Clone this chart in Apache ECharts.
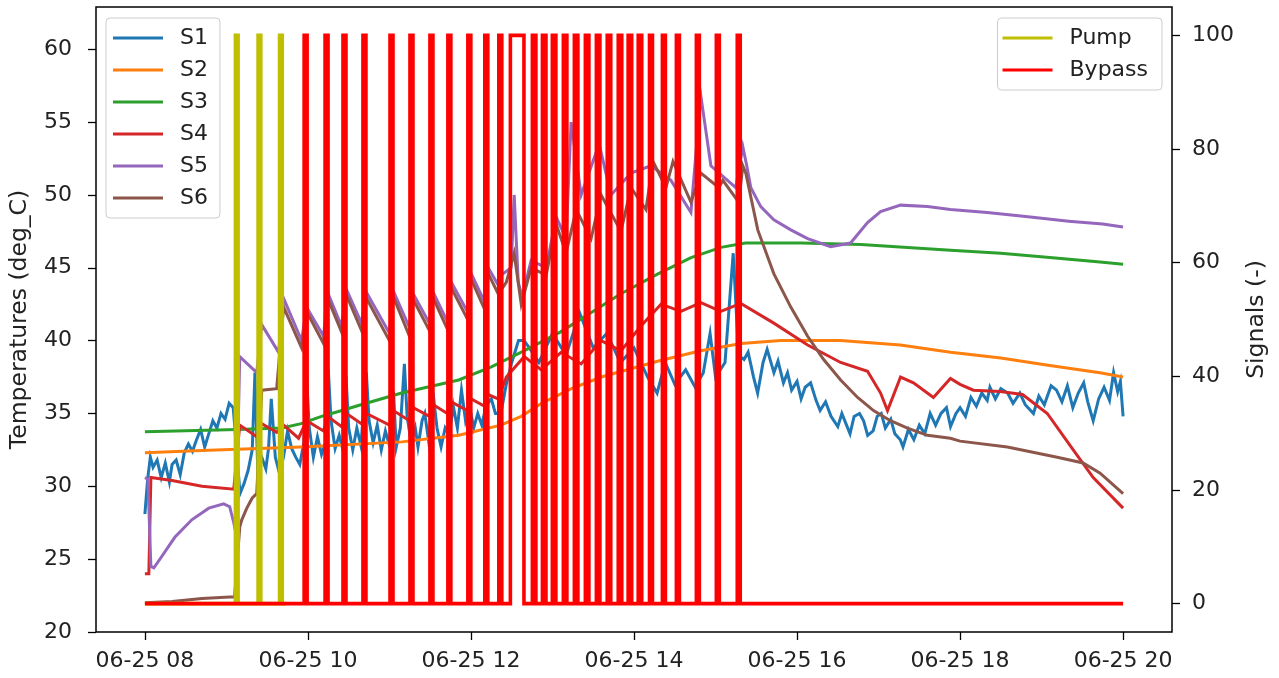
<!DOCTYPE html>
<html>
<head>
<meta charset="utf-8">
<script src="https://cdn.jsdelivr.net/npm/echarts@6/dist/echarts.min.js"></script>
<style>
  html, body { margin: 0; padding: 0; background: #fff; }
  #chart { width: 1279px; height: 678px; }
</style>
</head>
<body>
<div id="chart"></div>
<script>
// time is in minutes after 06-25 08:00
const s1Time = [0, 2, 4, 6, 9, 12, 15, 18, 20, 23, 26, 29, 32, 35, 38, 41, 44, 47, 50, 53, 56, 59, 62, 65,
  70, 73, 76, 79, 81, 83, 86, 89, 91, 93, 96, 99, 102, 105, 108, 111, 114, 117, 119, 121, 124, 127, 130, 133,
  135, 137, 140, 143, 146, 148, 150, 153, 156, 159, 163, 165, 168, 171, 174, 177, 180, 183, 185, 188, 191, 193,
  196, 199, 201, 204, 206, 209, 212, 215, 218, 221, 224, 227, 230, 233, 236, 239, 242, 245, 248, 251, 255, 258,
  262, 266, 270, 275, 279, 283, 290, 300, 310, 320, 330, 340, 350, 360, 370, 377, 383, 390, 398, 405, 411, 416,
  420, 427, 433, 437, 441, 444, 448, 451, 455, 458, 463, 466, 470, 473, 476, 480, 483, 486, 490, 494, 497, 501,
  505, 510, 513, 516, 519, 522, 526, 529, 532, 536, 539, 542, 545, 549, 552, 556, 558, 562, 566, 570, 574, 578,
  582, 586, 590, 593, 597, 600, 604, 608, 612, 616, 620, 622, 626, 630, 635, 639, 644, 648, 654, 658, 662, 667,
  671, 675, 679, 683, 687, 691, 694, 698, 702, 706, 710, 713, 716, 718, 720]
const s1Temp = [28.1, 30.5, 32.0, 31.3, 31.8, 30.6, 31.6, 30.3, 31.5, 31.8, 30.8, 32.3, 32.9, 32.4, 33.2, 33.9, 32.7, 33.6, 34.5, 34.0, 35.0, 34.6, 35.7, 35.4,
  29.5, 30.2, 31.1, 32.5, 37.8, 31.3, 32.0, 31.2, 32.6, 36.0, 32.0, 30.9, 32.0, 33.8, 32.6, 32.0, 31.5, 33.0, 37.5, 34.0, 32.0, 33.4, 32.2, 33.0,
  38.0, 34.5, 32.6, 33.5, 32.4, 37.6, 34.0, 32.5, 34.0, 32.8, 37.8, 34.5, 33.0, 34.2, 32.5, 33.8, 32.8, 36.5, 32.7, 34.0, 38.4, 34.8,
  33.0, 34.0, 32.7, 34.5, 35.0, 33.0, 36.5, 34.0, 32.7, 34.0, 33.5, 35.5, 34.0, 36.6, 34.5, 35.5, 34.0, 35.0, 34.2, 35.5, 36.0, 35.0,
  35.0, 37.0, 38.5, 40.0, 40.0, 39.5, 38.5, 40.5, 39.0, 41.9, 39.5, 40.5, 38.5, 39.5, 37.5, 36.4, 38.5, 37.0, 38.0, 36.8, 37.8, 40.5,
  37.5, 38.5, 46.0, 39.0, 38.7, 39.2, 37.5, 36.4, 38.5, 39.4, 37.8, 38.6, 37.1, 37.8, 36.6, 37.2, 36.0, 36.8, 37.1, 35.9, 35.2, 35.8,
  34.8, 34.1, 35.0, 34.3, 33.6, 34.8, 35.0, 34.5, 33.5, 33.8, 34.8, 35.0, 34.0, 34.6, 33.6, 33.2, 32.7, 33.9, 33.2, 34.2, 33.6, 35.0,
  34.2, 35.0, 35.4, 34.1, 35.0, 35.4, 34.8, 36.1, 35.5, 36.4, 35.9, 36.8, 36.0, 36.7, 36.4, 35.7, 36.4, 35.6, 35.0, 36.2, 35.6, 36.9,
  36.6, 35.8, 36.9, 35.4, 36.4, 37.1, 35.8, 34.5, 36.0, 36.8, 35.9, 37.8, 36.5, 37.2, 34.8]

const s2Time = [0, 42, 115, 189, 231, 262, 277, 292, 314, 336, 378, 409, 439, 468, 512, 556, 593, 630, 666, 703, 720]
const s2Temp = [32.3, 32.45, 32.7, 33.05, 33.5, 34.2, 34.8, 35.7, 36.7, 37.5, 38.6, 39.3, 39.8, 40.0, 40.0, 39.7, 39.2, 38.8, 38.3, 37.8, 37.5]

const s3Time = [0, 68, 101, 115, 130, 145, 159, 189, 231, 255, 279, 306, 328, 350, 378, 402, 424, 442, 483, 527, 593, 630, 666, 703, 720]
const s3Temp = [33.75, 33.9, 34.0, 34.3, 34.8, 35.2, 35.6, 36.4, 37.3, 38.2, 39.3, 40.6, 41.9, 43.2, 44.6, 45.7, 46.4, 46.7, 46.7, 46.6, 46.2, 46.0, 45.7, 45.4, 45.25]

const s4Time = [0, 2.9, 4.4, 20, 42, 65.4, 69.8, 82.3, 86, 97, 102.1, 113.1, 119, 131.5, 134.5, 144.7, 148.4, 159.4, 163.1, 180,
  182.9, 194.7, 197.6, 209.4, 212.3, 222.6, 225.6, 237.3, 240.2, 249.8, 252.7, 260.1, 266, 279.2, 291.7, 306.4, 321.1, 335.8,
  350.4, 365.1, 379.9, 394.5, 409.2, 423.9, 438.6, 462.9, 487.8, 512.1, 531.9, 541.5, 546.6, 556.2, 565.7, 580.4, 592.9, 600,
  609.8, 629.6, 646, 664.2, 683.3, 698, 720]
const s4Temp = [24.0, 24.0, 30.6, 30.4, 30.0, 29.8, 34.2, 33.4, 34.3, 33.7, 34.2, 33.3, 34.5, 33.8, 34.8, 34.1, 35.0, 34.3, 35.0, 34.2,
  35.2, 34.5, 35.4, 34.8, 35.6, 35.0, 35.8, 35.2, 36.0, 35.5, 36.3, 36.0, 37.5, 38.9, 38.0, 39.2, 38.4, 40.0,
  39.3, 41.0, 42.5, 42.0, 42.6, 42.0, 42.55, 41.2, 39.7, 38.5, 37.9, 36.4, 35.2, 37.5, 37.1, 36.1, 37.4, 37.0,
  36.6, 36.5, 36.3, 35.0, 32.5, 30.6, 28.5]

const s5Time = [0, 2.2, 4.4, 6.6, 12.5, 22, 34.5, 47, 58, 62.4, 65.4, 66.9, 69.8, 82.3, 86, 98.4, 102.1, 115.3, 119, 131.5,
  134.5, 144.7, 148.4, 159.4, 163.1, 180, 182.9, 194.7, 197.6, 209.4, 212.3, 222.6, 225.6, 237.3, 240.2, 249.8, 252.7, 260.1,
  262.3, 269.6, 271.8, 274.8, 277.7, 284.3, 295.4, 302.7, 310, 313.7, 321.1, 334.3, 343.1, 357.8, 372.5, 387.2, 401.9, 409.2,
  416.6, 434.9, 440.1, 443, 446, 453.3, 462.9, 475.4, 487.8, 504.7, 519.4, 531.9, 541.5, 556.2, 576, 592.9, 620, 650, 680, 705, 720]
const s5Temp = [30.6, 30.5, 24.5, 24.4, 25.2, 26.5, 27.7, 28.5, 28.8, 28.6, 27.5, 26.8, 38.9, 37.8, 41.1, 39.2, 42.9, 40.0, 42.3, 40.3,
  43.3, 41.0, 43.5, 41.2, 43.3, 40.5, 43.4, 40.9, 43.2, 41.2, 43.3, 41.3, 44.0, 42.0, 44.6, 42.7, 45.0, 43.8,
  44.5, 45.0, 50.0, 44.0, 43.0, 45.5, 45.0, 48.5, 47.0, 55.0, 50.0, 53.5, 50.0, 51.5, 52.0, 51.0, 48.8, 56.8,
  52.0, 50.5, 53.3, 52.0, 50.5, 49.2, 48.3, 47.6, 47.0, 46.45, 46.7, 48.1, 48.85, 49.3, 49.2, 49.0, 48.8, 48.5, 48.2, 48.0, 47.8]

const s6Time = [0, 20, 42, 62.4, 66, 69.8, 71.3, 75, 79, 82.3, 86, 97, 102.1, 115.3, 119, 131.5, 134.5, 144.7, 148.4, 159.4,
  163.1, 180, 182.9, 194.7, 197.6, 209.4, 212.3, 222.6, 225.6, 237.3, 240.2, 249.8, 252.7, 260.1, 266, 271.8, 277, 284.3,
  295.4, 302.7, 310, 317.4, 328.4, 335.8, 350.4, 357.8, 368.8, 374, 383.5, 388.7, 401.9, 409.2, 422.5, 425.4, 437.1, 440.1,
  442.3, 451.1, 462.9, 475.4, 487.8, 499.6, 512.1, 524.6, 536.3, 548.8, 561.3, 576, 592.9, 600, 634.8, 671.5, 690.6, 703.1, 720]
const s6Temp = [22.0, 22.1, 22.3, 22.4, 22.4, 27.2, 27.7, 28.5, 29.2, 29.5, 36.6, 36.7, 42.3, 39.5, 42.0, 39.8, 42.9, 40.6, 43.1, 40.7,
  42.9, 40.0, 43.0, 40.3, 42.8, 40.7, 42.9, 40.8, 43.6, 41.5, 44.2, 42.2, 44.6, 43.2, 44.0, 46.0, 42.5, 45.0,
  44.5, 48.0, 46.0, 49.0, 47.0, 50.0, 47.5, 50.5, 49.0, 52.3, 50.5, 52.3, 49.5, 51.5, 50.5, 51.0, 49.5, 52.0,
  51.5, 47.6, 44.6, 42.3, 40.3, 38.7, 37.3, 36.1, 35.2, 34.5, 34.0, 33.5, 33.3, 33.1, 32.7, 32.0, 31.6, 30.9, 29.5]

// signal pulses (0 -> 100 -> 0), start and end minutes
const pumpOn = [66.6, 83.3, 99.1]
const pumpOff = [68.6, 85.3, 101.1]
const pumpEnd = 104
const bypassOn = [117.2, 132.6, 145.8, 160.5, 180.4, 195.1, 209.8, 223.0, 237.7, 250.2, 260.5, 269.0,
  285.2, 292.6, 299.9, 308.0, 316.1, 324.2, 332.3, 340.3, 348.4, 355.7, 363.1,
  371.4, 380.9, 391.2, 405.9, 420.6, 436.0]
const bypassOff = [119.4, 134.8, 148.0, 162.7, 182.6, 197.3, 212.0, 225.2, 239.9, 252.4, 262.7, 279.0,
  287.8, 295.2, 302.5, 310.6, 318.7, 326.8, 334.9, 342.9, 351.0, 358.3, 365.7,
  373.6, 383.1, 393.4, 408.1, 422.8, 438.2]
const bypassEnd = 720

const xTicks = [0, 120, 240, 360, 480, 600, 720]
const leftTicks = [20, 25, 30, 35, 40, 45, 50, 55, 60]
const rightTicks = [0, 20, 40, 60, 80, 100]

function pairs(t, v) {
  return t.map(function (x, i) { return [x, v[i]] })
}
function pulses(on, off, end) {
  var d = [[0, 0]]
  for (var i = 0; i < on.length; i++) {
    d.push([on[i], 0], [on[i], 100], [off[i], 100], [off[i], 0])
  }
  d.push([end, 0])
  return d
}

var FONT = 'DejaVu Sans'
var myChart = echarts.init(document.getElementById('chart'))

function lineSeries(name, data, color, yIdx, width) {
  return {
    name: name,
    type: 'line',
    yAxisIndex: yIdx,
    data: data,
    showSymbol: false,
    symbol: 'none',
    animation: false,
    lineStyle: { color: color, width: width, join: 'miter' },
    itemStyle: { color: color },
    emphasis: { disabled: true }
  }
}

var legendBase = {
  orient: 'vertical',
  icon: 'rect',
  itemWidth: 50,
  itemHeight: 3,
  itemGap: 10,
  backgroundColor: 'rgba(255,255,255,0.8)',
  borderColor: '#cccccc',
  borderWidth: 1,
  borderRadius: 4,
  textStyle: { fontFamily: FONT, fontSize: 22, color: '#222', padding: [0, 0, 0, 12] }
}

myChart.setOption({
  animation: false,
  grid: {
    left: 96, right: 107, top: 7, bottom: 46,
    show: true, borderColor: '#000', borderWidth: 1.5, backgroundColor: 'transparent'
  },
  legend: [
    Object.assign({}, legendBase, { data: ['S1', 'S2', 'S3', 'S4', 'S5', 'S6'], left: 106, top: 18, padding: [9, 12, 9, 7] }),
    Object.assign({}, legendBase, { data: ['Pump', 'Bypass'], right: 117, top: 18, padding: [9, 14, 9, 5] })
  ],
  xAxis: {
    type: 'value',
    min: -36,
    max: 756,
    splitLine: { show: false },
    axisLine: { show: false, onZero: false },
    axisTick: { show: true, length: 8, customValues: xTicks, lineStyle: { color: '#000', width: 1.3 } },
    axisLabel: {
      customValues: xTicks,
      margin: 18,
      fontFamily: FONT,
      fontSize: 22,
      color: '#222',
      formatter: function (v) {
        var h = 8 + v / 60
        return '06-25 ' + (h < 10 ? '0' + h : '' + h)
      }
    }
  },
  yAxis: [
    {
      type: 'value',
      min: 20,
      max: 62.9,
      name: 'Temperatures (deg_C)',
      nameLocation: 'middle',
      nameRotate: 90,
      nameGap: 64,
      nameTextStyle: { fontFamily: FONT, fontSize: 23.5, color: '#222' },
      splitLine: { show: false },
      axisLine: { show: false, onZero: false },
      axisTick: { show: true, length: 8, customValues: leftTicks, lineStyle: { color: '#000', width: 1.3 } },
      axisLabel: { customValues: leftTicks, margin: 24, fontFamily: FONT, fontSize: 22, color: '#222' }
    },
    {
      type: 'value',
      min: -5,
      max: 105,
      position: 'right',
      name: 'Signals (-)',
      nameLocation: 'middle',
      nameRotate: 90,
      nameGap: 70,
      nameTextStyle: { fontFamily: FONT, fontSize: 23.5, color: '#222' },
      splitLine: { show: false },
      axisLine: { show: false, onZero: false },
      axisTick: { show: true, length: 8, customValues: rightTicks, lineStyle: { color: '#000', width: 1.3 } },
      axisLabel: { customValues: rightTicks, margin: 20, fontFamily: FONT, fontSize: 22, color: '#222' }
    }
  ],
  series: [
    lineSeries('S1', pairs(s1Time, s1Temp), '#1f77b4', 0, 3),
    lineSeries('S2', pairs(s2Time, s2Temp), '#ff7f0e', 0, 3),
    lineSeries('S3', pairs(s3Time, s3Temp), '#2ca02c', 0, 3),
    lineSeries('S4', pairs(s4Time, s4Temp), '#d62728', 0, 3),
    lineSeries('S5', pairs(s5Time, s5Temp), '#9467bd', 0, 3),
    lineSeries('S6', pairs(s6Time, s6Temp), '#8c564b', 0, 3),
    lineSeries('Pump', pulses(pumpOn, pumpOff, pumpEnd), '#bfbf00', 1, 3.6),
    lineSeries('Bypass', pulses(bypassOn, bypassOff, bypassEnd), '#ff0000', 1, 3.6)
  ]
})
</script>
</body>
</html>
